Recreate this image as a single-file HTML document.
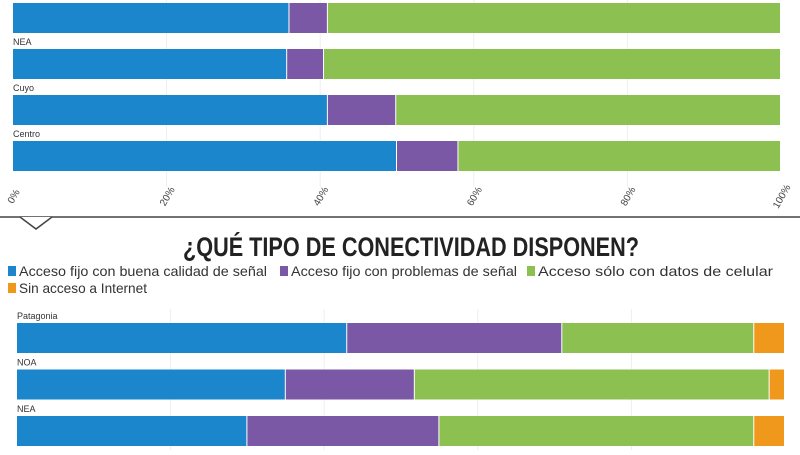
<!DOCTYPE html>
<html><head><meta charset="utf-8"><style>
body{margin:0;width:800px;height:450px;background:#fff;overflow:hidden;font-family:"Liberation Sans",sans-serif;}
svg text{font-family:"Liberation Sans",sans-serif;}
</style></head><body>
<svg id="c" width="800" height="450">
<line x1="0" y1="217" x2="800" y2="217" stroke="#444" stroke-width="1.5"/>
<polyline points="20,217 36,229 52,217" fill="#fff" stroke="#444" stroke-width="1.5"/>
<text x="411" y="256" text-anchor="middle" font-size="27" font-weight="bold" fill="#222" textLength="456" lengthAdjust="spacingAndGlyphs">¿QUÉ TIPO DE CONECTIVIDAD DISPONEN?</text>
<g id="legend"></g>
<g id="top"></g>
<g id="bot"></g>
</svg>
<script>
const colors=["#1b86cc","#7b58a5","#8cc152","#f0981c"];
const seriesNames=["Acceso fijo con buena calidad de señal","Acceso fijo con problemas de señal","Acceso sólo con datos de celular","Sin acceso a Internet"];
const topRegions=["NOA","NEA","Cuyo","Centro"];
const topBlue=[36,35.7,41,50];
const topPurple=[5,4.8,8.9,8];
const topGreen=[59,59.5,50.1,42];
const topTicks=[0,20,40,60,80,100];
const botRegions=["Patagonia","NOA","NEA"];
const botBlue=[43,35,30];
const botPurple=[28,16.8,25];
const botGreen=[25,46.2,41];
const botOrange=[4,2,4];
const NS="http://www.w3.org/2000/svg";
function mk(p,t,a){const e=document.createElementNS(NS,t);for(const k in a)e.setAttribute(k,a[k]);p.appendChild(e);return e;}
function drawChart(g,regions,series,x0,x1,yStart,step,h,withTicks,prefix){
  const sx=v=>x0+(x1-x0)*v/100;
  [20,40,60,80].forEach(t=>{const l=mk(g,"line",{x1:sx(t),x2:sx(t),y1:yStart-14,y2:yStart+step*regions.length,stroke:"#eee"});
    
    });
  regions.forEach((r,i)=>{
    const y=yStart+i*step;
    const lb=mk(g,"text",{x:x0,y:y-4,"font-size":9,fill:"#333"});lb.textContent=r;
    
    
    let acc=0;
    series.forEach((s,j)=>{
      const v=s[i];
      const rc=mk(g,"rect",{x:sx(acc),y:y,width:Math.max(0,sx(acc+v)-sx(acc)-1),height:h,fill:colors[j]});
      
      
      acc+=v;
    });
  });
  if(withTicks){
    topTicks.forEach(t=>{
      const tx=mk(g,"text",{x:sx(t),y:200,"font-size":10,fill:"#444","text-anchor":"middle",transform:`rotate(-60 ${sx(t)} 196)`});
      tx.textContent=t+"%";
      
      
    });
  }
}
drawChart(document.getElementById("top"),topRegions,[topBlue,topPurple,topGreen],13,781,3,46,30,true,"top");
drawChart(document.getElementById("bot"),botRegions,[botBlue,botPurple,botGreen,botOrange],17,785,323,46.5,30,false,"bottom");
const lg=document.getElementById("legend");
const pos=[[8,276],[280,276],[527,276],[8,293]];
const lens=[248,226,235,128];
seriesNames.forEach((n,i)=>{
  const r=mk(lg,"rect",{x:pos[i][0],y:pos[i][1]-10,width:8,height:10,fill:colors[i]});
  
  
  const t=mk(lg,"text",{x:pos[i][0]+11,y:pos[i][1],"font-size":14,fill:"#333",textLength:lens[i],lengthAdjust:"spacingAndGlyphs"});t.textContent=n;
  
  
});
</script>
</body></html>
